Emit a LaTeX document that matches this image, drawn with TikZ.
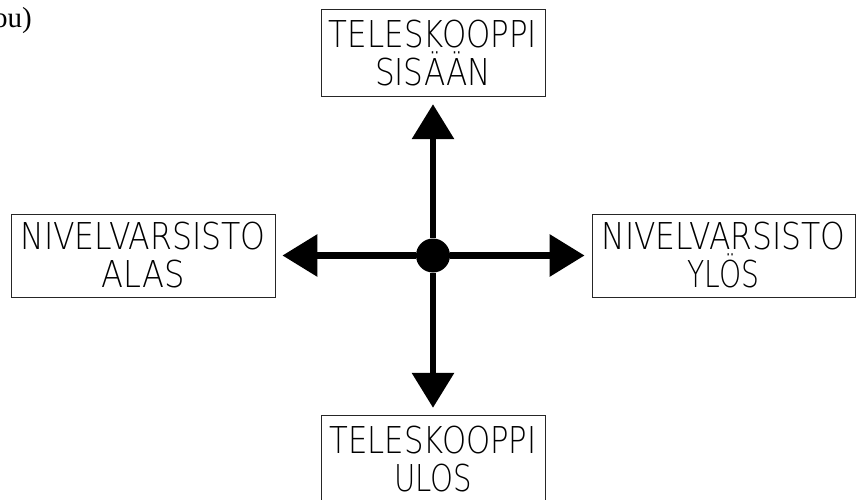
\documentclass[tikz,border=0pt]{standalone}
\usepackage{fontspec}
\usepackage{graphicx}
\setmainfont{Liberation Serif}
\newfontfamily\cadfont{DejaVu Sans}[UprightFont={* ExtraLight}]
\usetikzlibrary{arrows.meta}
\newcommand\fw[2]{\resizebox{#1pt}{\height}{#2}}
\tikzset{
  lbl/.style={draw=black!85, line width=0.9pt, inner sep=0pt, align=center,
    font=\cadfont\fontsize{37}{38}\selectfont},
  dot/.style={circle, fill=black, inner sep=0pt, minimum size=34pt},
  arr/.style={line width=6.5pt, -{Triangle[length=35pt,width=41pt]}, shorten >=7pt},
}
\begin{document}
\begin{tikzpicture}[x=1pt,y=-1pt]
\useasboundingbox (0,0) rectangle (857,500);
\node[anchor=base east, font=\fontsize{29}{32}\selectfont, inner sep=0pt] (cap) at (32,28) {ou)};
\node[lbl, minimum width=224pt, minimum height=87.5pt] (top) at (433,53)
  {\fw{208}{TELESKOOPPI}\\\fw{116}{SISÄÄN}};
\node[lbl, minimum width=224pt, minimum height=87.5pt] (bot) at (433,459)
  {\fw{207}{TELESKOOPPI}\\\fw{78}{ULOS}};
\node[lbl, minimum width=264pt, minimum height=83pt] (left) at (143,255.5)
  {\fw{245}{NIVELVARSISTO}\\\fw{83}{ALAS}};
\node[lbl, minimum width=263pt, minimum height=83pt] (right) at (723.5,255.5)
  {\fw{244}{NIVELVARSISTO}\\\fw{72}{YLÖS}};
\node[dot] (c) at (433,255.5) {};
\draw[arr] (c) -- (top);
\draw[arr] (c) -- (bot);
\draw[arr] (c) -- (left);
\draw[arr] (c) -- (right);
\end{tikzpicture}
\end{document}
